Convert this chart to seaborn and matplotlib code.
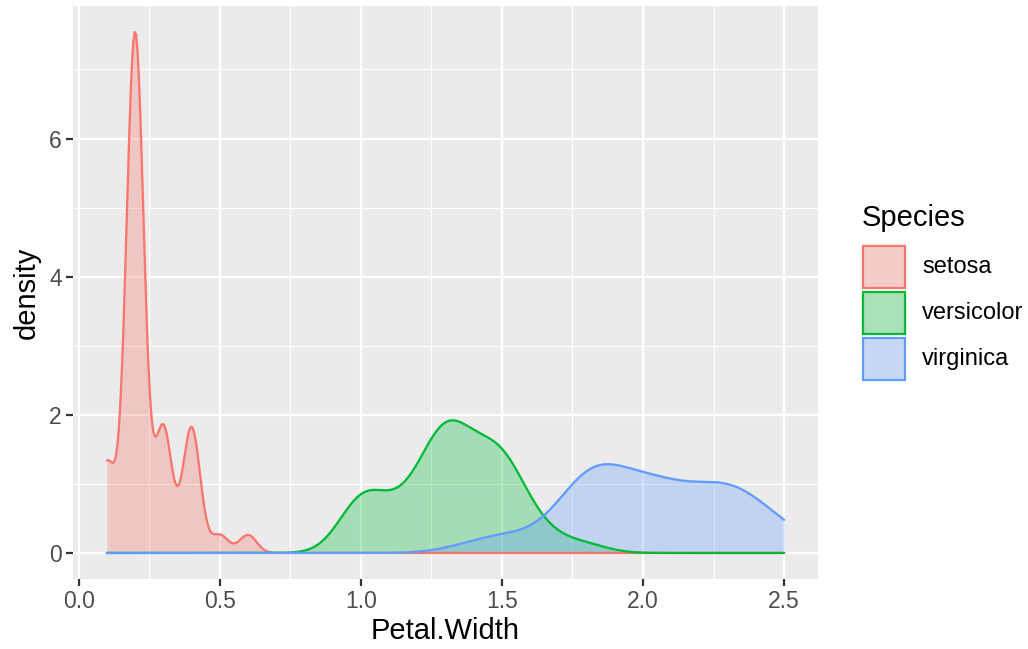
import numpy as np
import pandas as pd
import matplotlib
matplotlib.use("Agg")
import matplotlib.pyplot as plt
from matplotlib.patches import Rectangle
import seaborn as sns

# iris Petal.Width by species
species = ["setosa", "versicolor", "virginica"]
setosa = [0.2,0.2,0.2,0.2,0.2,0.4,0.3,0.2,0.2,0.1,0.2,0.2,0.1,0.1,0.2,0.4,0.4,0.3,0.3,0.3,
          0.2,0.4,0.2,0.5,0.2,0.2,0.4,0.2,0.2,0.2,0.2,0.4,0.1,0.2,0.2,0.2,0.2,0.1,0.2,0.2,
          0.3,0.3,0.2,0.6,0.4,0.3,0.2,0.2,0.2,0.2]
versicolor = [1.4,1.5,1.5,1.3,1.5,1.3,1.6,1.0,1.3,1.4,1.0,1.5,1.0,1.4,1.3,1.4,1.5,1.0,1.5,1.1,
              1.8,1.3,1.5,1.2,1.3,1.4,1.4,1.7,1.5,1.0,1.1,1.0,1.2,1.6,1.5,1.6,1.5,1.3,1.3,1.3,
              1.2,1.4,1.2,1.0,1.3,1.2,1.3,1.3,1.1,1.3]
virginica = [2.5,1.9,2.1,1.8,2.2,2.1,1.7,1.8,1.8,2.5,2.0,1.9,2.1,2.0,2.4,2.3,1.8,2.2,2.3,1.5,
             2.3,2.0,2.0,1.8,2.1,1.8,1.8,1.8,2.1,1.6,1.9,2.0,2.2,1.5,1.4,2.3,2.4,1.8,1.8,2.1,
             2.4,2.3,1.9,2.3,2.5,2.3,1.9,2.0,2.3,1.8]
colors = ["#F8766D", "#00BA38", "#619CFF"]
x_ticks = [0.0, 0.5, 1.0, 1.5, 2.0, 2.5]
x_tick_labels = ["0.0", "0.5", "1.0", "1.5", "2.0", "2.5"]
y_ticks = [0, 2, 4, 6]
y_tick_labels = ["0", "2", "4", "6"]

groups = {"setosa": setosa, "versicolor": versicolor, "virginica": virginica}
all_vals = np.concatenate([np.asarray(v) for v in groups.values()])
lo, hi = all_vals.min(), all_vals.max()
grid = np.linspace(lo, hi, 512)

def bw_nrd0(x):
    x = np.asarray(x, float)
    s = x.std(ddof=1)
    q75, q25 = np.percentile(x, [75, 25])
    l = min(s, (q75 - q25) / 1.34)
    return 0.9 * l * len(x) ** (-0.2)

def dens(x):
    x = np.asarray(x, float)
    bw = bw_nrd0(x)
    z = (grid[:, None] - x[None, :]) / bw
    return np.exp(-0.5 * z ** 2).sum(axis=1) / (len(x) * bw * np.sqrt(2 * np.pi))

frames = []
for sp in species:
    frames.append(pd.DataFrame({"Petal.Width": grid, "density": dens(groups[sp]), "Species": sp}))
df = pd.concat(frames, ignore_index=True)

sns.set_theme(style="darkgrid")
plt.rcParams["font.family"] = ["Liberation Sans", "DejaVu Sans"]

W, H = 1028, 649
fig = plt.figure(figsize=(W / 100, H / 100), dpi=100)
pl, pr, pt, pb = 73, 818, 6, 579
ax = fig.add_axes([pl / W, 1 - pb / H, (pr - pl) / W, (pb - pt) / H])
ax.set_facecolor("#EBEBEB")

for sp, c in zip(species, colors):
    d = df[df["Species"] == sp]
    ax.fill_between(d["Petal.Width"], 0, d["density"], color=c, alpha=0.3, linewidth=0, zorder=2)
    sns.lineplot(data=d, x="Petal.Width", y="density", color=c, linewidth=1.65,
                 estimator=None, sort=True, ax=ax, zorder=3, legend=False)

ymax = df["density"].max()
xr = hi - lo
ax.set_xlim(lo - 0.05 * xr, hi + 0.05 * xr)
ax.set_ylim(-0.05 * ymax, 1.05 * ymax)

ax.set_xticks(x_ticks)
ax.set_xticklabels(x_tick_labels)
ax.set_yticks(y_ticks)
ax.set_yticklabels(y_tick_labels)
ax.set_xticks([0.25, 0.75, 1.25, 1.75, 2.25], minor=True)
ax.set_yticks([1, 3, 5, 7], minor=True)
ax.grid(which="major", color="white", linewidth=1.7)
ax.grid(which="minor", color="white", linewidth=0.85)
ax.set_axisbelow(True)
for s in ax.spines.values():
    s.set_visible(False)
ax.tick_params(axis="both", which="major", length=5, width=1.6, color="#333333",
               labelcolor="#4D4D4D", labelsize=16.5, pad=3, bottom=True, left=True)
ax.tick_params(axis="both", which="minor", length=0)
ax.set_xlabel("Petal.Width", fontsize=21, color="black", labelpad=3)
ax.set_ylabel("density", fontsize=21, color="black", labelpad=6)

# legend
fig.text(862 / W, 1 - 218 / H, "Species", fontsize=21, ha="left", va="center", color="black")
tops = [245, 291, 337]
for sp, c, t in zip(species, colors, tops):
    fig.add_artist(Rectangle((862 / W, 1 - (t + 44) / H), 44 / W, 44 / H,
                             transform=fig.transFigure, facecolor="#F2F2F2", edgecolor="none"))
    fig.add_artist(Rectangle((863 / W, 1 - (t + 43) / H), 42 / W, 42 / H,
                             transform=fig.transFigure, facecolor=matplotlib.colors.to_rgba(c, 0.3),
                             edgecolor=c, linewidth=1.6))
    fig.text(922 / W, 1 - (t + 22) / H, sp, fontsize=17, ha="left", va="center", color="black")

fig.savefig("out.png", dpi=100)
